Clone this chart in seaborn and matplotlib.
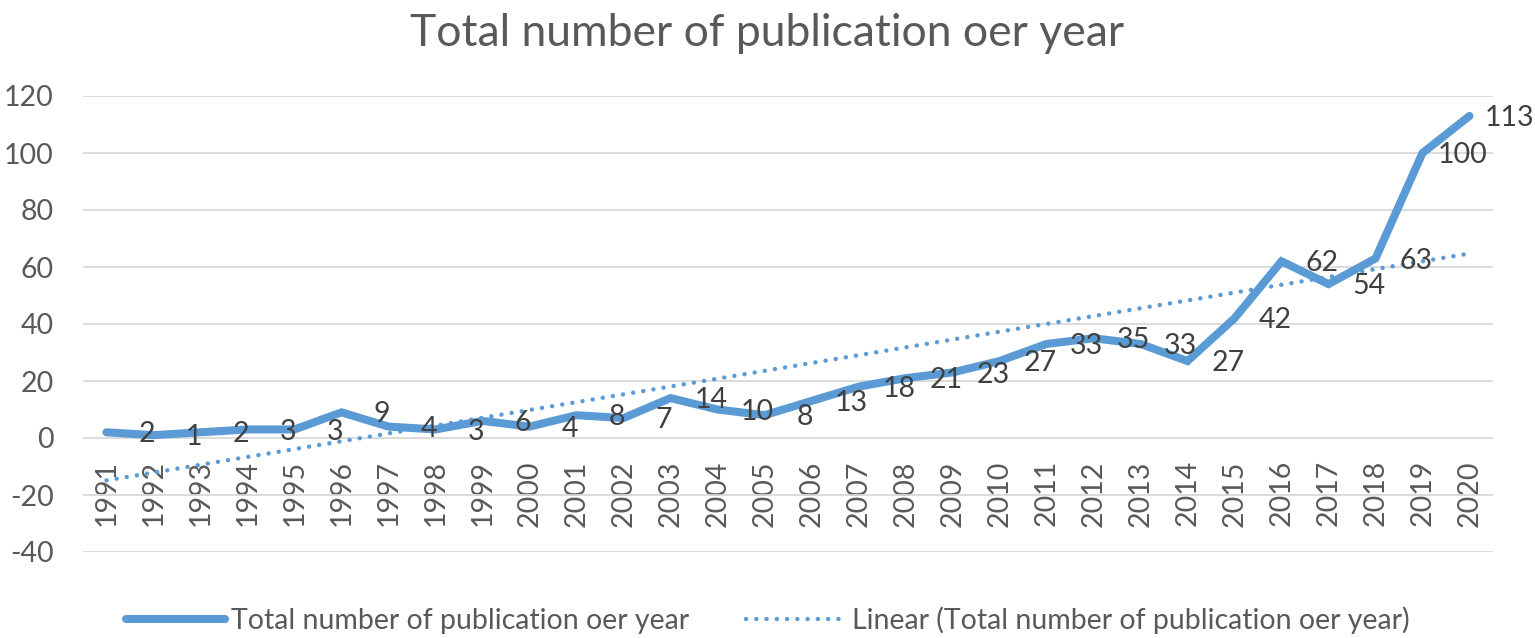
import numpy as np
import pandas as pd
import matplotlib
matplotlib.use("Agg")
import matplotlib.pyplot as plt
import seaborn as sns
from matplotlib.lines import Line2D

years = [str(y) for y in range(1991, 2021)]
publications = [2, 1, 2, 3, 3, 9, 4, 3, 6, 4, 8, 7, 14, 10, 8, 13, 18, 21, 23, 27,
                33, 35, 33, 27, 42, 62, 54, 63, 100, 113]
yticks = [-40, -20, 0, 20, 40, 60, 80, 100, 120]
title = "Total number of publication oer year"
series_name = "Total number of publication oer year"
trend_name = "Linear (Total number of publication oer year)"

sns.set_theme(style="white")
plt.rcParams['font.family'] = ['Lato', 'DejaVu Sans']

BLUE = "#5B9BD5"
GRAY = "#595959"
DARK = "#404040"
FS = 20.5

df = pd.DataFrame({"pos": np.arange(len(years)), "value": publications})

fig = plt.figure(figsize=(15.35, 6.38), dpi=100)
ax = fig.add_axes([83/1535, 1-552/638, (1493-83)/1535, (552-96)/638])

ax.set_axisbelow(True)
ax.yaxis.grid(True, color="#D9D9D9", lw=1.3)
ax.xaxis.grid(False)

sns.regplot(data=df, x="pos", y="value", ax=ax, scatter=False, ci=None,
            line_kws=dict(color=BLUE, lw=3.2, ls=(0, (0.01, 2.3)),
                          dash_capstyle="round", solid_capstyle="round"))
sns.lineplot(data=df, x="pos", y="value", ax=ax, color=BLUE, lw=5.8,
             solid_capstyle="round", solid_joinstyle="miter")

for i, v in enumerate(publications):
    ax.annotate(str(v), (i, v), xytext=(29, -1.5), textcoords="offset points",
                ha="center", va="center", fontsize=FS, color=DARK,
                annotation_clip=False)

ax.set_xlim(-0.5, len(years) - 0.5)
ax.set_ylim(yticks[0], yticks[-1])
ax.set_yticks(yticks)
ax.set_yticklabels([str(t) for t in yticks])
ax.set_xticks(np.arange(len(years)))
ax.set_xticklabels(years)
ax.set_xlabel("")
ax.set_ylabel("")

for s in ["top", "right", "left"]:
    ax.spines[s].set_visible(False)
ax.spines["bottom"].set_position(("data", 0))
ax.spines["bottom"].set_color("none")
ax.tick_params(axis="x", length=0, pad=16, labelsize=FS, labelcolor=GRAY,
               labelrotation=90)
ax.tick_params(axis="y", length=0, pad=21, labelsize=FS, labelcolor=GRAY)

fig.text(0.5, 1 - 33/638, title, ha="center", va="center", fontsize=32, color=GRAY)

handles = [Line2D([], [], color=BLUE, lw=5.8, solid_capstyle="round"),
           Line2D([], [], color=BLUE, lw=3.2, ls=(0, (0.01, 2.3)), dash_capstyle="round")]
fig.legend(handles, [series_name, trend_name], loc="center", ncol=2,
           bbox_to_anchor=(0.5, 1 - 620/638), frameon=False, fontsize=FS,
           labelcolor=GRAY, handlelength=3.5, handletextpad=0.2, columnspacing=2.0)

fig.savefig("out.png", dpi=100)
